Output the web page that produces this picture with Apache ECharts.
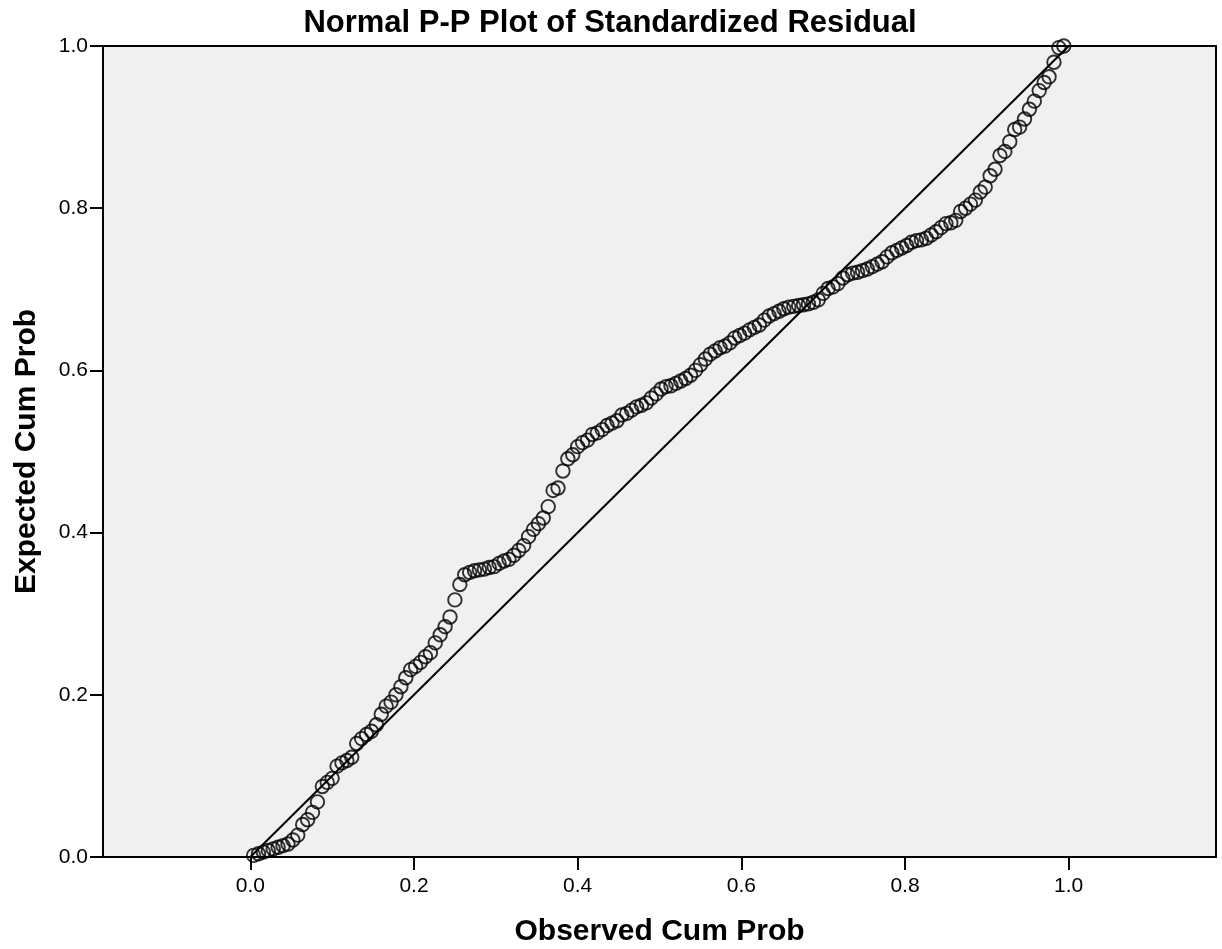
<!DOCTYPE html>
<html>
<head>
<meta charset="utf-8">
<script src="https://cdn.jsdelivr.net/npm/echarts@6/dist/echarts.min.js"></script>
<style>html,body{margin:0;padding:0;background:#fff;}#c{width:1222px;height:949px;}</style>
</head>
<body>
<div id="c"></div>
<script>
const titleText = 'Normal P-P Plot of Standardized Residual';
const xName = 'Observed Cum Prob';
const yName = 'Expected Cum Prob';
const tickValues = [0, 0.2, 0.4, 0.6, 0.8, 1.0];
const observed = [0.004,0.010,0.016,0.022,0.028,0.034,0.040,0.046,0.052,0.058,0.064,0.070,0.076,0.082,0.088,0.094,0.100,0.106,0.112,0.118,0.124,0.130,0.136,0.142,0.148,0.154,0.160,0.166,0.172,0.178,0.184,0.190,0.196,0.202,0.208,0.214,0.220,0.226,0.232,0.238,0.244,0.250,0.256,0.262,0.268,0.274,0.280,0.286,0.292,0.298,0.304,0.310,0.316,0.322,0.328,0.334,0.340,0.346,0.352,0.358,0.364,0.370,0.376,0.382,0.388,0.394,0.400,0.406,0.412,0.418,0.424,0.430,0.436,0.442,0.448,0.454,0.460,0.466,0.472,0.478,0.484,0.490,0.496,0.502,0.508,0.514,0.520,0.526,0.532,0.538,0.544,0.550,0.556,0.562,0.568,0.574,0.580,0.586,0.592,0.598,0.604,0.610,0.616,0.622,0.628,0.634,0.640,0.646,0.652,0.658,0.664,0.670,0.676,0.682,0.688,0.694,0.700,0.706,0.712,0.718,0.724,0.730,0.736,0.742,0.748,0.754,0.760,0.766,0.772,0.778,0.784,0.790,0.796,0.802,0.808,0.814,0.820,0.826,0.832,0.838,0.844,0.850,0.856,0.862,0.868,0.874,0.880,0.886,0.892,0.898,0.904,0.910,0.916,0.922,0.928,0.934,0.940,0.946,0.952,0.958,0.964,0.970,0.976,0.982,0.988,0.994];
const expected = [0.002,0.004,0.006,0.008,0.010,0.012,0.014,0.016,0.021,0.027,0.040,0.046,0.055,0.068,0.087,0.092,0.097,0.112,0.116,0.119,0.123,0.140,0.146,0.151,0.155,0.163,0.176,0.186,0.191,0.200,0.210,0.221,0.231,0.235,0.240,0.247,0.252,0.264,0.274,0.284,0.296,0.317,0.336,0.348,0.351,0.353,0.354,0.355,0.357,0.358,0.362,0.365,0.367,0.372,0.378,0.384,0.395,0.404,0.411,0.418,0.432,0.452,0.455,0.476,0.491,0.496,0.506,0.511,0.514,0.521,0.523,0.527,0.532,0.535,0.538,0.545,0.547,0.551,0.555,0.557,0.560,0.566,0.571,0.577,0.580,0.581,0.584,0.587,0.590,0.594,0.600,0.607,0.614,0.620,0.624,0.628,0.630,0.634,0.640,0.643,0.646,0.650,0.653,0.656,0.662,0.667,0.670,0.673,0.676,0.678,0.679,0.680,0.681,0.682,0.684,0.687,0.695,0.701,0.703,0.707,0.714,0.718,0.720,0.721,0.723,0.725,0.728,0.731,0.734,0.740,0.745,0.748,0.751,0.754,0.758,0.760,0.761,0.763,0.767,0.771,0.776,0.781,0.782,0.785,0.796,0.800,0.805,0.810,0.820,0.826,0.840,0.848,0.865,0.870,0.882,0.897,0.900,0.910,0.922,0.932,0.945,0.955,0.962,0.980,0.998,1.000];
const refLine = [[0, 0], [1, 1]];

const points = observed.map((x, i) => [x, expected[i]]);
const font = 'Liberation Sans, Arial, sans-serif';
const chart = echarts.init(document.getElementById('c'), null, {renderer: 'canvas'});
chart.setOption({
  animation: false,
  backgroundColor: '#ffffff',
  title: {
    text: titleText, left: 605, top: 3, textAlign: 'center',
    textStyle: {fontFamily: font, fontSize: 31, fontWeight: 'bold', color: '#000'}
  },
  grid: {left: 103, right: 6, top: 46, bottom: 92, outerBoundsMode: 'none', containLabel: false,
    show: true, backgroundColor: '#f0f0f0', borderColor: '#000', borderWidth: 2},
  xAxis: {
    type: 'value', min: -0.18, max: 1.18,
    name: xName, nameLocation: 'middle', nameGap: 60,
    nameTextStyle: {fontFamily: font, fontSize: 30, fontWeight: 'bold', color: '#000'},
    axisLine: {show: true, onZero: false, lineStyle: {color: '#000', width: 2}},
    axisTick: {show: true, length: 13, customValues: tickValues, lineStyle: {color: '#000', width: 2}},
    axisLabel: {customValues: tickValues, margin: 19, fontFamily: font, fontSize: 21, color: '#000', formatter: v => v.toFixed(1)},
    splitLine: {show: false}
  },
  yAxis: {
    type: 'value', min: 0, max: 1, interval: 0.2,
    name: yName, nameLocation: 'middle', nameGap: 61, nameRotate: 90,
    nameTextStyle: {fontFamily: font, fontSize: 30, fontWeight: 'bold', color: '#000'},
    axisLine: {show: true, onZero: false, lineStyle: {color: '#000', width: 2}},
    axisTick: {show: true, length: 13, lineStyle: {color: '#000', width: 2}},
    axisLabel: {margin: 15, fontFamily: font, fontSize: 21, color: '#000', formatter: v => v.toFixed(1)},
    splitLine: {show: false}
  },
  series: [
    {
      type: 'line', data: refLine, symbol: 'none', silent: true,
      lineStyle: {color: '#000', width: 2}, z: 2
    },
    {
      type: 'scatter', data: points, symbol: 'circle', symbolSize: 13.5,
      itemStyle: {color: 'rgba(0,0,0,0)', borderColor: '#000', borderWidth: 1.9}, z: 3
    }
  ]
});
</script>
</body>
</html>
